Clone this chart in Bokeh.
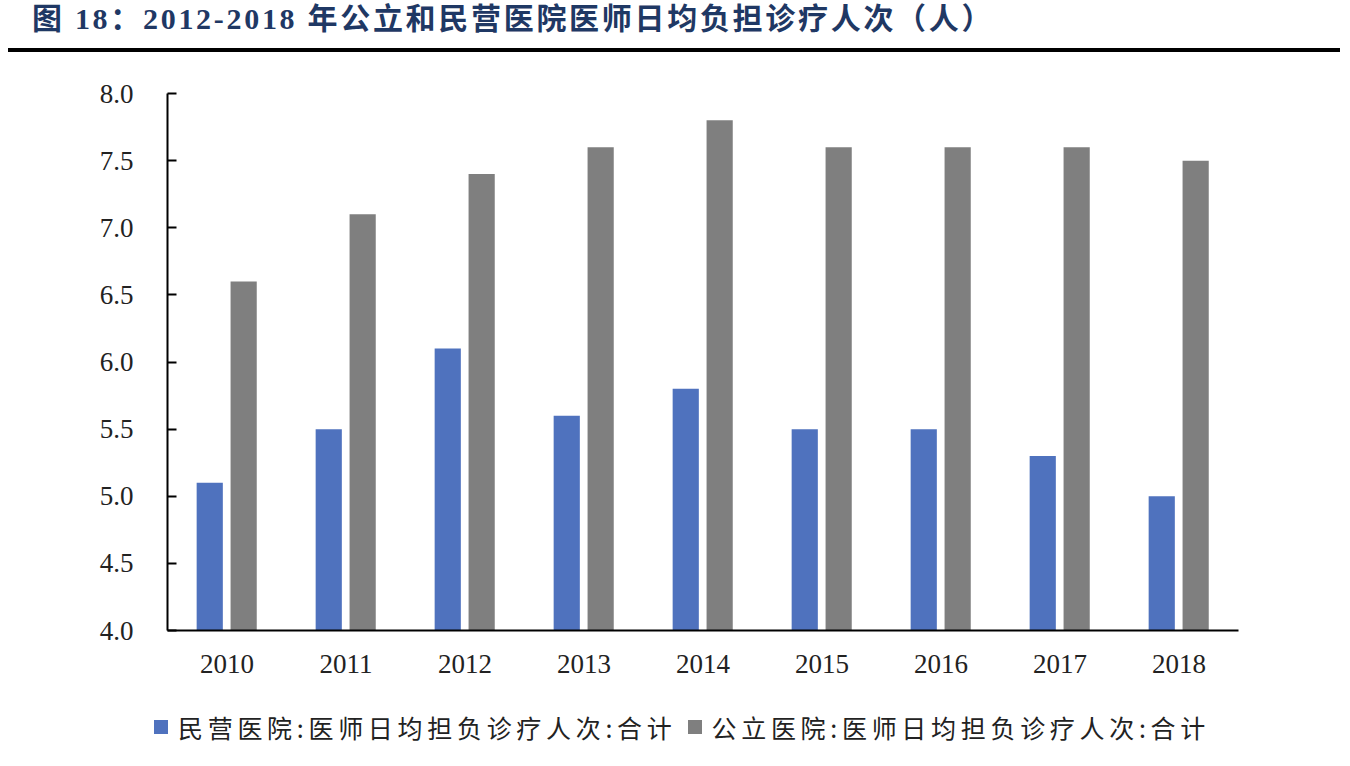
from bokeh.plotting import figure
from bokeh.models import FactorRange, Range1d, ColumnDataSource, Div
from bokeh.transform import dodge
from bokeh.layouts import column
from bokeh.embed import file_html
from bokeh.resources import INLINE

years = ["2010", "2011", "2012", "2013", "2014", "2015", "2016", "2017", "2018"]
private_vals = [5.1, 5.5, 6.1, 5.6, 5.8, 5.5, 5.5, 5.3, 5.0]
public_vals = [6.6, 7.1, 7.4, 7.6, 7.8, 7.6, 7.6, 7.6, 7.5]
private_label = "民营医院:医师日均担负诊疗人次:合计"
public_label = "公立医院:医师日均担负诊疗人次:合计"
private_color = "#4F72BE"
public_color = "#7F7F7F"
title_text = "图 18：2012-2018 年公立和民营医院医师日均负担诊疗人次（人）"
y_ticks = [4.0, 4.5, 5.0, 5.5, 6.0, 6.5, 7.0, 7.5, 8.0]

HEAD_H = 52
MAIN_W = 1340
MAIN_H = 648
LEG_H = 60

head = Div(
    text=(
        '<div style="margin-left:8px;width:1332px;height:48px;border-bottom:4px solid black;'
        'box-sizing:content-box;">'
        '<div style="padding-left:24px;padding-top:6px;line-height:26px;'
        "font-family:'Liberation Serif','Noto Sans CJK SC';font-weight:bold;"
        'font-size:30px;letter-spacing:2.7px;color:#1F3864;white-space:nowrap;">'
        f'{title_text}</div></div>'
    ),
    width=1350, height=HEAD_H, margin=(0, 0, 0, 0),
)

src = ColumnDataSource(dict(year=years, priv=private_vals, pub=public_vals))

p = figure(width=MAIN_W, height=MAIN_H, x_range=FactorRange(*years), y_range=Range1d(4, 8),
           output_backend="svg", toolbar_location=None, margin=(0, 0, 0, 0),
           min_border_left=167, min_border_right=102, min_border_top=41, min_border_bottom=70)
p.outline_line_color = None
p.grid.visible = False

p.vbar(x=dodge("year", -0.145, range=p.x_range), top="priv", bottom=4, width=0.22,
       source=src, fill_color=private_color, line_color=None)
p.vbar(x=dodge("year", 0.14, range=p.x_range), top="pub", bottom=4, width=0.22,
       source=src, fill_color=public_color, line_color=None)

p.yaxis.ticker = y_ticks
p.yaxis.major_label_overrides = {t: f"{t:.1f}" for t in y_ticks}
p.yaxis.axis_line_color = "black"
p.yaxis.axis_line_width = 2
p.yaxis.major_tick_in = 9
p.yaxis.major_tick_out = 0
p.yaxis.major_tick_line_width = 2
p.yaxis.major_tick_line_color = "black"
p.yaxis.minor_tick_line_color = None
p.yaxis.major_label_standoff = 34
p.yaxis.major_label_text_font = "Liberation Serif"
p.yaxis.major_label_text_font_size = "27px"
p.yaxis.major_label_text_color = "#222222"

p.xaxis.axis_line_color = "black"
p.xaxis.axis_line_width = 2
p.xaxis.major_tick_line_color = None
p.xaxis.minor_tick_line_color = None
p.xaxis.major_label_standoff = 18
p.xaxis.major_label_text_font = "Liberation Serif"
p.xaxis.major_label_text_font_size = "27px"
p.xaxis.major_label_text_color = "#222222"


def legend_item(color, label, left):
    return (
        f'<span style="display:inline-block;width:14px;height:14px;background:{color};'
        f'margin-left:{left}px;margin-right:10px;vertical-align:middle;"></span>'
        f'<span style="vertical-align:middle;letter-spacing:4.7px;">{label}</span>'
    )


legend_div = Div(
    text=(
        '<div style="padding-top:8px;line-height:30px;white-space:nowrap;'
        "font-family:'Noto Sans CJK SC';font-size:25px;color:#222222;\">"
        + legend_item(private_color, private_label, 154)
        + legend_item(public_color, public_label, 11)
        + '</div>'
    ),
    width=1350, height=LEG_H, margin=(0, 0, 0, 0),
)

layout = column(head, p, legend_div, spacing=0)
open("out.html", "w").write(file_html(layout, INLINE))
